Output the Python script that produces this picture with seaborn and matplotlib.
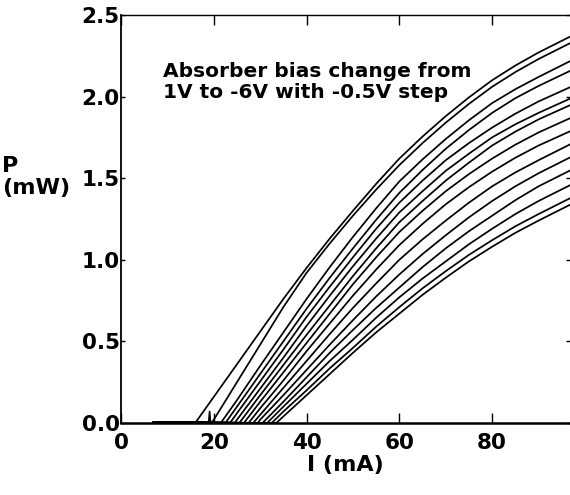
import matplotlib
matplotlib.use("Agg")
import matplotlib.pyplot as plt
import seaborn as sns
import pandas as pd
import numpy as np

# ---------------- data ----------------
bias_labels = ["1V", "0.5V", "0V", "-0.5V", "-1V", "-1.5V", "-2V", "-2.5V",
               "-3V", "-3.5V", "-4V", "-4.5V", "-5V", "-5.5V", "-6V"]
# threshold currents (mA) of each curve
thresholds = [16.0, 19.5, 21.5, 22.5, 23.5, 24.5, 25.5, 26.5,
              27.5, 28.5, 29.5, 30.5, 31.5, 32.5, 33.5]
# start of the recorded sweep (mA) and sub-threshold level (mW)
sweep_start = 7.0
floor_power = 0.005
# common current grid above threshold (mA)
currents = [20, 25, 30, 35, 40, 45, 50, 55, 60, 65, 70, 75, 80, 85, 90, 97]
# output power (mW) at the current grid; None = below threshold
p_1V    = [0.16, 0.36, 0.56, 0.76, 0.95, 1.13, 1.30, 1.465, 1.62, 1.755, 1.88, 1.995, 2.10, 2.19, 2.27, 2.37]
p_0_5V  = [0.02, 0.25, 0.48, 0.71, 0.92, 1.10, 1.27, 1.43, 1.58, 1.715, 1.84, 1.955, 2.06, 2.15, 2.23, 2.33]
p_0V    = [None, 0.14, 0.35, 0.555, 0.76, 0.955, 1.14, 1.315, 1.48, 1.615, 1.74, 1.855, 1.96, 2.045, 2.12, 2.22]
p_m0_5V = [None, 0.10, 0.30, 0.50, 0.70, 0.89, 1.07, 1.245, 1.41, 1.55, 1.68, 1.795, 1.90, 1.99, 2.065, 2.16]
p_m1V   = [None, 0.06, 0.255, 0.45, 0.65, 0.835, 1.015, 1.19, 1.35, 1.485, 1.61, 1.715, 1.81, 1.895, 1.97, 2.06]
p_m1_5V = [None, 0.02, 0.21, 0.40, 0.595, 0.78, 0.96, 1.13, 1.29, 1.42, 1.545, 1.65, 1.75, 1.83, 1.90, 1.99]
p_m2V   = [None, None, 0.17, 0.355, 0.54, 0.72, 0.90, 1.07, 1.23, 1.36, 1.485, 1.595, 1.70, 1.785, 1.86, 1.95]
p_m2_5V = [None, None, 0.13, 0.31, 0.49, 0.67, 0.85, 1.015, 1.17, 1.30, 1.42, 1.525, 1.62, 1.705, 1.78, 1.87]
p_m3V   = [None, None, 0.09, 0.26, 0.44, 0.61, 0.78, 0.94, 1.09, 1.22, 1.34, 1.445, 1.54, 1.625, 1.70, 1.79]
p_m3_5V = [None, None, 0.05, 0.215, 0.38, 0.545, 0.705, 0.855, 1.00, 1.125, 1.24, 1.35, 1.45, 1.535, 1.61, 1.71]
p_m4V   = [None, None, 0.02, 0.17, 0.325, 0.48, 0.63, 0.775, 0.91, 1.035, 1.15, 1.26, 1.36, 1.45, 1.53, 1.63]
p_m4_5V = [None, None, None, 0.13, 0.28, 0.43, 0.57, 0.705, 0.83, 0.955, 1.07, 1.175, 1.27, 1.365, 1.45, 1.55]
p_m5V   = [None, None, None, 0.10, 0.24, 0.38, 0.51, 0.645, 0.77, 0.885, 0.99, 1.095, 1.19, 1.28, 1.36, 1.46]
p_m5_5V = [None, None, None, 0.07, 0.20, 0.335, 0.46, 0.59, 0.71, 0.825, 0.93, 1.03, 1.12, 1.205, 1.28, 1.38]
p_m6V   = [None, None, None, 0.04, 0.17, 0.30, 0.43, 0.555, 0.67, 0.785, 0.89, 0.99, 1.08, 1.165, 1.24, 1.34]
# small glitch recorded on the 0.5V curve just below its threshold
glitch_I = [18.9, 19.1, 19.3]
glitch_P = [0.0, 0.07, 0.0]

power_sets = [p_1V, p_0_5V, p_0V, p_m0_5V, p_m1V, p_m1_5V, p_m2V, p_m2_5V,
              p_m3V, p_m3_5V, p_m4V, p_m4_5V, p_m5V, p_m5_5V, p_m6V]

rows = []
for lab, ith, pw in zip(bias_labels, thresholds, power_sets):
    rows.append((lab, sweep_start, floor_power))
    if lab == "0.5V":
        for gi, gp in zip(glitch_I, glitch_P):
            rows.append((lab, gi, gp))
    rows.append((lab, ith, 0.0))
    for c, p in zip(currents, pw):
        if p is not None:
            rows.append((lab, c, p))
df = pd.DataFrame(rows, columns=["bias", "I", "P"])

# ---------------- figure ----------------
sns.set_theme(style="white")
plt.rcParams['font.family'] = ['DejaVu Sans']
plt.rcParams['font.weight'] = 'bold'

W, H = 570, 495
fig = plt.figure(figsize=(W / 100, H / 100), dpi=100)
fig.patch.set_facecolor("white")
left_px, right_px, top_px, bottom_px = 121, 570, 15, 423
ax = fig.add_axes([left_px / W, 1 - bottom_px / H,
                   (right_px - left_px) / W, (bottom_px - top_px) / H])
ax.set_facecolor("white")

sns.lineplot(data=df, x="I", y="P", hue="bias",
             palette=["black"] * len(bias_labels), hue_order=bias_labels,
             estimator=None, sort=False, legend=False, linewidth=1.25, ax=ax)

ax.set_xlim(0, 96.8)
ax.set_ylim(0, 2.5)
ax.set_xticks([0, 20, 40, 60, 80])
ax.set_xticklabels(["0", "20", "40", "60", "80"])
ax.set_yticks([0, 0.5, 1.0, 1.5, 2.0, 2.5])
ax.set_yticklabels(["0.0", "0.5", "1.0", "1.5", "2.0", "2.5"])
ax.tick_params(axis="x", which="major", direction="in", length=7, width=1.0,
               top=True, bottom=True, labelsize=15.5, pad=7, colors="black")
ax.tick_params(axis="y", which="major", direction="in", length=3, width=1.0,
               left=True, right=True, labelsize=15.5, pad=1, colors="black")
for lab in ax.get_xticklabels() + ax.get_yticklabels():
    lab.set_fontweight("bold")

for side in ["left", "bottom", "top"]:
    ax.spines[side].set_visible(True)
    ax.spines[side].set_color("black")
ax.spines["left"].set_linewidth(1.3)
ax.spines["bottom"].set_linewidth(1.8)
ax.spines["top"].set_linewidth(1.0)
ax.spines["right"].set_visible(False)

ax.set_xlabel("I (mA)", fontsize=16, fontweight="bold", labelpad=2, color="black")
ax.set_ylabel("")

fig.text(2 / W, 1 - 156 / H, "P\n(mW)", ha="left", va="top", fontsize=16,
         fontweight="bold", linespacing=1.1, color="black")
fig.text(163 / W, 1 - 62 / H, "Absorber bias change from\n1V to -6V with -0.5V step",
         ha="left", va="top", fontsize=14.5, fontweight="bold",
         linespacing=1.15, color="black")

fig.savefig("out.png", dpi=100, facecolor="white")
